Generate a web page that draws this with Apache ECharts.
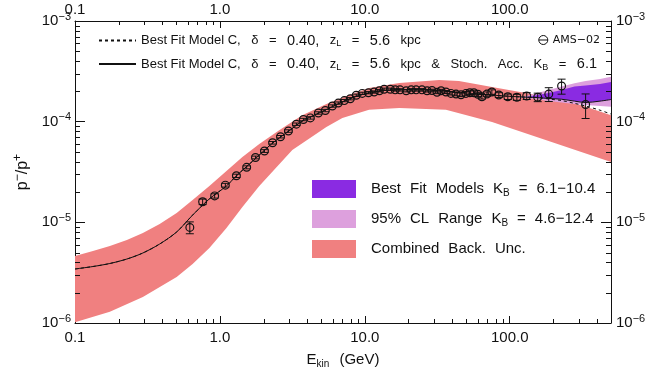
<!DOCTYPE html>
<html>
<head>
<meta charset="utf-8">
<script src="https://cdn.jsdelivr.net/npm/echarts@6/dist/echarts.min.js"></script>
<style>
  html, body { margin: 0; padding: 0; background: #fff; }
  #chart { width: 669px; height: 374px; }
</style>
</head>
<body>
<div id="chart"></div>
<script>
// AMS-02 antiproton / proton ratio, E_kin in GeV
const amsEnergy = [0.62, 0.76, 0.92, 1.09, 1.30, 1.53, 1.76, 2.03, 2.31, 2.62,
  2.97, 3.37, 3.77, 4.21, 4.78, 5.34, 5.97, 6.56, 7.22, 7.94,
  8.73, 9.60, 10.6, 11.6, 12.6, 13.6, 15.0, 16.2, 17.5, 19.3,
  20.9, 22.6, 24.8, 26.9, 29.1, 31.5, 33.6, 36.3, 39.3, 42.6,
  46.1, 49.9, 53.1, 56.6, 60.3, 64.3, 69.6, 75.3, 84.1, 97.0,
  112, 131, 156, 186, 228, 334];
const amsRatio = [8.9e-6, 1.60e-5, 1.83e-5, 2.34e-5, 2.90e-5, 3.52e-5, 4.41e-5, 5.11e-5, 6.17e-5, 7.09e-5,
  8.07e-5, 9.44e-5, 1.05e-4, 1.09e-4, 1.22e-4, 1.29e-4, 1.43e-4, 1.53e-4, 1.62e-4, 1.69e-4,
  1.83e-4, 1.91e-4, 1.94e-4, 1.97e-4, 2.03e-4, 2.10e-4, 2.10e-4, 2.07e-4, 2.07e-4, 2.03e-4,
  2.07e-4, 2.07e-4, 2.07e-4, 2.03e-4, 2.04e-4, 1.96e-4, 2.03e-4, 1.97e-4, 1.91e-4, 1.88e-4,
  1.85e-4, 1.91e-4, 1.94e-4, 1.94e-4, 1.87e-4, 1.77e-4, 1.88e-4, 1.97e-4, 1.84e-4, 1.77e-4,
  1.75e-4, 1.80e-4, 1.75e-4, 1.88e-4, 2.26e-4, 1.48e-4];
const amsError = [1.2e-6, 1.0e-6, 0.9e-6, 1.0e-6, 1.1e-6, 1.2e-6, 1.4e-6, 1.6e-6, 1.8e-6, 2.0e-6,
  2.3e-6, 2.6e-6, 2.9e-6, 3.0e-6, 3.3e-6, 3.5e-6, 3.8e-6, 4.0e-6, 4.2e-6, 4.4e-6,
  4.7e-6, 4.9e-6, 5.0e-6, 5.1e-6, 5.2e-6, 5.4e-6, 5.4e-6, 5.4e-6, 5.5e-6, 5.5e-6,
  5.7e-6, 5.8e-6, 6.0e-6, 6.0e-6, 6.2e-6, 6.3e-6, 6.6e-6, 6.8e-6, 7.0e-6, 7.3e-6,
  7.6e-6, 8.0e-6, 8.3e-6, 8.6e-6, 8.8e-6, 9.0e-6, 9.4e-6, 1.0e-5, 1.0e-5, 1.1e-5,
  1.2e-5, 1.4e-5, 1.7e-5, 2.95e-5, 3.85e-5, 4.05e-5];

// best fit model C curves (dashed: no stochastic acceleration, solid: K_B = 6.1)
const modelEnergy = [0.1, 0.133, 0.174, 0.228, 0.294, 0.384, 0.503, 0.648, 0.846, 1.11,
  1.30, 1.76, 2.3, 3.0, 3.77, 4.78, 5.97, 7.2, 8.7, 10.5,
  13.6, 17.5, 22.6, 29, 36, 46, 60, 75, 97, 131,
  156, 185, 228, 280, 334, 420, 500];
const modelStoch = [3.44e-6, 3.64e-6, 3.90e-6, 4.32e-6, 4.96e-6, 6.09e-6, 8.02e-6, 1.18e-5, 1.71e-5, 2.30e-5,
  2.9e-5, 4.3e-5, 6.1e-5, 8.1e-5, 1.03e-4, 1.21e-4, 1.41e-4, 1.60e-4, 1.78e-4, 1.92e-4,
  2.04e-4, 2.08e-4, 2.08e-4, 2.05e-4, 2.01e-4, 1.95e-4, 1.89e-4, 1.84e-4, 1.79e-4, 1.75e-4,
  1.73e-4, 1.70e-4, 1.67e-4, 1.60e-4, 1.55e-4, 1.60e-4, 1.66e-4];
const modelNoStoch = [3.44e-6, 3.64e-6, 3.90e-6, 4.32e-6, 4.96e-6, 6.09e-6, 8.02e-6, 1.18e-5, 1.71e-5, 2.30e-5,
  2.9e-5, 4.3e-5, 6.1e-5, 8.1e-5, 1.03e-4, 1.21e-4, 1.41e-4, 1.60e-4, 1.78e-4, 1.92e-4,
  2.04e-4, 2.08e-4, 2.08e-4, 2.05e-4, 2.01e-4, 1.95e-4, 1.89e-4, 1.84e-4, 1.79e-4, 1.75e-4,
  1.74e-4, 1.68e-4, 1.62e-4, 1.52e-4, 1.43e-4, 1.30e-4, 1.19e-4];

// combined background uncertainty band
const backUpperEnergy = [0.1, 0.133, 0.174, 0.228, 0.294, 0.384, 0.503, 0.648, 0.846, 1.11,
  1.43, 1.87, 2.58, 3.70, 5.43, 7.8, 10.7, 17.3, 32.6, 44.6,
  75.5, 129, 217, 324, 500];
const backUpper = [4.63e-6, 5.19e-6, 5.82e-6, 6.68e-6, 7.83e-6, 9.63e-6, 1.24e-5, 1.67e-5, 2.30e-5, 3.24e-5,
  4.46e-5, 6.00e-5, 8.26e-5, 1.16e-4, 1.50e-4, 1.84e-4, 2.16e-4, 2.42e-4, 2.59e-4, 2.54e-4,
  2.21e-4, 1.93e-4, 1.68e-4, 1.43e-4, 1.16e-4];
const backLowerEnergy = [0.1, 0.174, 0.294, 0.503, 0.648, 0.846, 1.11, 1.43, 1.87, 3.16,
  5.43, 7.0, 10.7, 17.3, 36.3, 75.5, 177, 500];
const backLower = [1.02e-6, 1.29e-6, 1.81e-6, 2.86e-6, 3.86e-6, 5.56e-6, 8.79e-6, 1.42e-5, 2.30e-5, 5.24e-5,
  8.85e-5, 1.09e-4, 1.31e-4, 1.37e-4, 1.31e-4, 9.93e-5, 6.58e-5, 3.97e-5];

// best fit models K_B = 6.1-10.4
const fitEnergy = [131, 156, 185, 228, 280, 334, 420, 500];
const fitUpper = [1.76e-4, 1.84e-4, 1.93e-4, 2.06e-4, 2.23e-4, 2.29e-4, 2.37e-4, 2.48e-4];
const fitLower = [1.75e-4, 1.73e-4, 1.70e-4, 1.67e-4, 1.60e-4, 1.55e-4, 1.60e-4, 1.66e-4];

// 95% CL range K_B = 4.6-12.4
const clEnergy = [112, 131, 156, 185, 228, 280, 334, 420, 500];
const clUpper = [1.74e-4, 1.80e-4, 1.93e-4, 2.06e-4, 2.24e-4, 2.41e-4, 2.54e-4, 2.66e-4, 2.79e-4];
const clLower = [1.74e-4, 1.72e-4, 1.66e-4, 1.60e-4, 1.55e-4, 1.50e-4, 1.46e-4, 1.43e-4, 1.41e-4];

const xMinorTicks = [0.2, 0.3, 0.4, 0.5, 0.6, 0.7, 0.8, 0.9, 2, 3, 4, 5, 6, 7, 8, 9,
  20, 30, 40, 50, 60, 70, 80, 90, 200, 300, 400];
const yMinorTicks = [2e-6, 3e-6, 4e-6, 5e-6, 6e-6, 7e-6, 8e-6, 9e-6, 2e-5, 3e-5, 4e-5, 5e-5, 6e-5, 7e-5, 8e-5, 9e-5,
  2e-4, 3e-4, 4e-4, 5e-4, 6e-4, 7e-4, 8e-4, 9e-4];

const X_MIN = 0.1, X_MAX = 500, Y_MIN = 1e-6, Y_MAX = 1e-3;
const FONT = 'Liberation Sans, Arial, sans-serif';
const INK = '#111';

// wide word gaps ({w|}) imitate the spacing of the original plot
const legendNames = {
  modelC: 'Best Fit Model C,{w|}δ{w|}={w|}{n|0.40,}{w|}z{sub|L}{w|}={w|}{n|5.6}{w|}kpc',
  modelCStoch: 'Best Fit Model C,{w|}δ{w|}={w|}{n|0.40,}{w|}z{sub|L}{w|}={w|}{n|5.6}{w|}kpc{w|}&{w|}Stoch.{w|}Acc.{w|}K{sub|B}{w|}={w|}{n|6.1}',
  fit: '{g|}Best{w|}Fit{w|}Models{w|}K{sub|B}{w|}={w|}6.1−10.4',
  cl: '{g|}95%{w|}CL{w|}Range{w|}K{sub|B}{w|}={w|}4.6−12.4',
  back: '{g|}Combined{w|}Back.{w|}Unc.',
  ams: 'AMS−02'
};

function isDecade(v) {
  const l = Math.log10(v);
  return Math.abs(l - Math.round(l)) < 1e-6;
}

function xLabel(v) {
  return isDecade(v) ? Number(v).toFixed(1) : '';
}

function yLabel(v) {
  if (!isDecade(v)) return '';
  const e = Math.round(Math.log10(v));
  return '{b|10}{s|' + (e < 0 ? '−' + (-e) : e) + '}';
}

function band(name, color, upE, up, loE, lo, z) {
  return {
    name: name,
    type: 'custom',
    coordinateSystem: 'cartesian2d',
    clip: true,
    silent: true,
    z: z,
    itemStyle: { color: color },
    data: [[upE[0], up[0]]],
    renderItem: function (params, api) {
      const top = upE.map(function (e, i) { return api.coord([e, up[i]]); });
      const bottom = loE.map(function (e, i) { return api.coord([e, lo[i]]); }).reverse();
      return {
        type: 'polygon',
        shape: { points: top.concat(bottom) },
        style: { fill: color, stroke: null }
      };
    }
  };
}

const chart = echarts.init(document.getElementById('chart'), null, { renderer: 'canvas' });

const axisCommon = {
  type: 'log',
  logBase: 10,
  axisLine: { show: true, lineStyle: { color: INK, width: 1 } },
  splitLine: { show: false },
  minorTick: { show: false },
  minorSplitLine: { show: false }
};

function textRich(size, gap, lead) {
  return {
    sub: { fontFamily: FONT, fontSize: Math.round(size * 0.68), color: INK, padding: [Math.round(size * 0.55), 0, 0, 0] },
    n: { fontFamily: FONT, fontSize: size + 1.5, color: INK },
    w: { width: gap },
    g: { width: lead }
  };
}

const yLabelRich = {
  b: { fontFamily: FONT, fontSize: 15, color: INK },
  s: { fontFamily: FONT, fontSize: 11, color: INK, padding: [0, 0, 9, 0] }
};

chart.setOption({
  animation: false,
  backgroundColor: '#fff',
  grid: { left: 75, right: 58, top: 21, bottom: 51, outerBoundsMode: 'none', containLabel: false },
  xAxis: [
    Object.assign({}, axisCommon, {
      position: 'bottom', min: X_MIN, max: X_MAX,
      name: 'E{sub|kin}{w|}(GeV)', nameLocation: 'middle', nameGap: 28,
      nameTextStyle: { fontFamily: FONT, fontSize: 15, color: INK,
        rich: { sub: { fontFamily: FONT, fontSize: 10, color: INK, padding: [8, 0, 0, 0] }, w: { width: 10 } } },
      axisTick: { show: true, inside: true, length: 7, lineStyle: { color: INK } },
      axisLabel: { formatter: xLabel, fontFamily: FONT, fontSize: 15, color: INK, margin: 7 }
    }),
    Object.assign({}, axisCommon, {
      position: 'top', min: X_MIN, max: X_MAX,
      axisTick: { show: true, inside: true, length: 7, lineStyle: { color: INK } },
      axisLabel: { formatter: xLabel, fontFamily: FONT, fontSize: 15, color: INK, margin: 4 }
    })
  ],
  yAxis: [
    Object.assign({}, axisCommon, {
      position: 'left', min: Y_MIN, max: Y_MAX,
      name: 'p{sup|−}/p{sup|+}', nameLocation: 'middle', nameGap: 42, nameRotate: 90,
      nameTextStyle: { fontFamily: FONT, fontSize: 16, color: INK,
        rich: { sup: { fontFamily: FONT, fontSize: 12, color: INK, padding: [0, 0, 9, 0] } } },
      axisTick: { show: true, inside: true, length: 10, lineStyle: { color: INK } },
      axisLabel: { formatter: yLabel, margin: 4, rich: yLabelRich }
    }),
    Object.assign({}, axisCommon, {
      position: 'right', min: Y_MIN, max: Y_MAX,
      axisTick: { show: true, inside: true, length: 10, lineStyle: { color: INK } },
      axisLabel: { formatter: yLabel, margin: 5, rich: yLabelRich }
    })
  ],
  legend: [
    {
      orient: 'vertical', left: 93, top: 28,
      itemWidth: 37, itemHeight: 14, itemGap: 8,
      selectedMode: false,
      itemStyle: { opacity: 0 },
      data: ['modelC', 'modelCStoch'],
      formatter: function (n) { return legendNames[n]; },
      textStyle: { fontFamily: FONT, fontSize: 13, color: INK, rich: textRich(13, 10.5, 0) }
    },
    {
      orient: 'vertical', right: 64, top: 28,
      itemWidth: 9, itemHeight: 9, itemGap: 5,
      selectedMode: false,
      data: [{
        name: 'ams',
        icon: 'path://M1,5A4,4 0 1,1 9,5A4,4 0 1,1 1,5ZM1,5L9,5',
        itemStyle: { color: 'none', borderColor: INK, borderWidth: 1 }
      }],
      formatter: function (n) { return legendNames[n]; },
      textStyle: { fontFamily: 'DejaVu Sans, sans-serif', fontSize: 11, color: INK }
    },
    {
      orient: 'vertical', left: 307, top: 175,
      itemWidth: 44, itemHeight: 18, itemGap: 12,
      selectedMode: false,
      icon: 'rect',
      data: ['fit', 'cl', 'back'],
      formatter: function (n) { return legendNames[n]; },
      textStyle: { fontFamily: FONT, fontSize: 15, color: INK, rich: textRich(15, 9, 10) }
    }
  ],
  series: [
    band('back', '#F08080', backUpperEnergy, backUpper, backLowerEnergy, backLower, 1),
    band('cl', '#DDA0DD', clEnergy, clUpper, clEnergy, clLower, 2),
    band('fit', '#8A2BE2', fitEnergy, fitUpper, fitEnergy, fitLower, 3),
    {
      name: 'modelC',
      type: 'line',
      z: 4,
      symbol: 'none',
      smooth: 0.3,
      clip: true,
      lineStyle: { color: INK, width: 1, type: [3, 3] },
      itemStyle: { color: INK },
      data: modelEnergy.map(function (e, i) { return [e, modelNoStoch[i]]; })
    },
    {
      name: 'modelCStoch',
      type: 'line',
      z: 5,
      symbol: 'none',
      smooth: 0.3,
      clip: true,
      lineStyle: { color: INK, width: 1 },
      itemStyle: { color: INK },
      data: modelEnergy.map(function (e, i) { return [e, modelStoch[i]]; })
    },
    {
      name: 'ams',
      type: 'custom',
      z: 6,
      clip: true,
      itemStyle: { color: INK },
      data: amsEnergy.map(function (e, i) {
        return [e, amsRatio[i], amsRatio[i] - amsError[i], amsRatio[i] + amsError[i]];
      }),
      renderItem: function (params, api) {
        const c = api.coord([api.value(0), api.value(1)]);
        const lo = api.coord([api.value(0), api.value(2)]);
        const hi = api.coord([api.value(0), api.value(3)]);
        const st = { stroke: INK, lineWidth: 1 };
        return {
          type: 'group',
          children: [
            { type: 'line', shape: { x1: c[0], y1: lo[1], x2: c[0], y2: hi[1] }, style: st },
            { type: 'line', shape: { x1: c[0] - 4, y1: lo[1], x2: c[0] + 4, y2: lo[1] }, style: st },
            { type: 'line', shape: { x1: c[0] - 4, y1: hi[1], x2: c[0] + 4, y2: hi[1] }, style: st },
            { type: 'circle', shape: { cx: c[0], cy: c[1], r: 3.9 }, style: { stroke: INK, lineWidth: 1.2, fill: null } }
          ]
        };
      }
    },
    {
      // log-spaced minor ticks on all four sides
      name: 'minorTicks',
      type: 'custom',
      silent: true,
      clip: false,
      z: 10,
      data: [[1, 1e-5]],
      renderItem: function (params, api) {
        const cs = params.coordSys;
        const st = { stroke: INK, lineWidth: 1 };
        const kids = [];
        xMinorTicks.forEach(function (v) {
          const px = Math.round(api.coord([v, Y_MIN])[0]) + 0.5;
          kids.push({ type: 'line', shape: { x1: px, y1: cs.y + cs.height, x2: px, y2: cs.y + cs.height - 4 }, style: st });
          kids.push({ type: 'line', shape: { x1: px, y1: cs.y, x2: px, y2: cs.y + 4 }, style: st });
        });
        yMinorTicks.forEach(function (v) {
          const py = Math.round(api.coord([X_MIN, v])[1]) + 0.5;
          kids.push({ type: 'line', shape: { x1: cs.x, y1: py, x2: cs.x + 5, y2: py }, style: st });
          kids.push({ type: 'line', shape: { x1: cs.x + cs.width, y1: py, x2: cs.x + cs.width - 5, y2: py }, style: st });
        });
        return { type: 'group', children: kids };
      }
    }
  ]
});
</script>
</body>
</html>
